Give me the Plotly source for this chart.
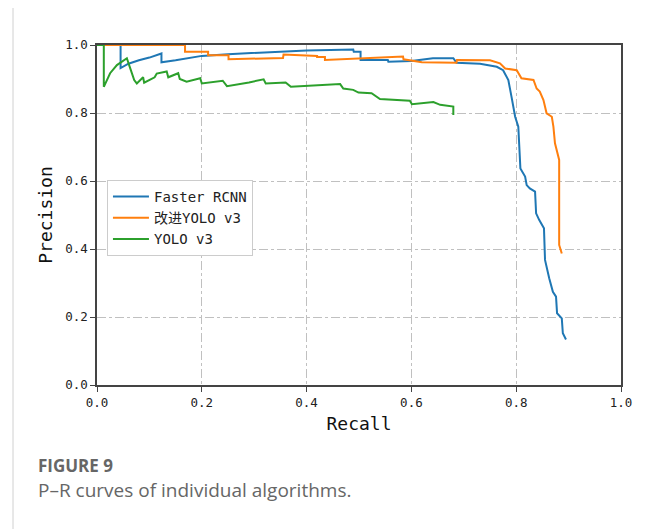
import plotly.graph_objects as go

# ---- data ----
rcnn_recall = [0.0, 0.045, 0.045, 0.06, 0.08, 0.10, 0.123, 0.123, 0.15, 0.20, 0.25, 0.30, 0.35, 0.40,
               0.489, 0.49, 0.503, 0.503, 0.555, 0.556, 0.60, 0.641, 0.68, 0.686, 0.731, 0.753, 0.763,
               0.775, 0.785, 0.791, 0.798, 0.804, 0.807, 0.808, 0.817, 0.82, 0.826, 0.836, 0.838, 0.844,
               0.853, 0.855, 0.863, 0.870, 0.876, 0.878, 0.887, 0.889, 0.895]
rcnn_precision = [1.0, 1.0, 0.932, 0.945, 0.955, 0.963, 0.975, 0.949, 0.955, 0.968, 0.973, 0.977, 0.981, 0.984,
                  0.987, 0.98, 0.98, 0.956, 0.956, 0.951, 0.953, 0.961, 0.961, 0.948, 0.945, 0.94, 0.936,
                  0.926, 0.897, 0.848, 0.789, 0.76, 0.69, 0.637, 0.613, 0.588, 0.578, 0.569, 0.505, 0.485,
                  0.461, 0.368, 0.314, 0.274, 0.26, 0.211, 0.196, 0.152, 0.134]

imp_recall = [0.0, 0.168, 0.168, 0.212, 0.212, 0.251, 0.251, 0.355, 0.356, 0.42, 0.42, 0.435, 0.435,
              0.584, 0.585, 0.62, 0.686, 0.687, 0.75, 0.769, 0.779, 0.801, 0.81, 0.833, 0.839, 0.845,
              0.852, 0.858, 0.868, 0.871, 0.874, 0.877, 0.882, 0.882, 0.887]
imp_precision = [1.0, 1.0, 0.98, 0.98, 0.97, 0.97, 0.958, 0.962, 0.972, 0.968, 0.965, 0.965, 0.956,
                 0.966, 0.958, 0.949, 0.948, 0.956, 0.955, 0.946, 0.931, 0.926, 0.902, 0.897, 0.872, 0.863,
                 0.838, 0.799, 0.789, 0.76, 0.711, 0.69, 0.662, 0.412, 0.387]

yolo_recall = [0.0, 0.013, 0.013, 0.025, 0.038, 0.057, 0.062, 0.066, 0.071, 0.076, 0.088, 0.09, 0.11,
               0.114, 0.133, 0.136, 0.155, 0.158, 0.171, 0.197, 0.2, 0.24, 0.248, 0.29, 0.318, 0.322,
               0.36, 0.37, 0.40, 0.464, 0.47, 0.489, 0.499, 0.524, 0.54, 0.597, 0.601, 0.642, 0.655,
               0.677, 0.680, 0.680]
yolo_precision = [1.0, 1.0, 0.877, 0.917, 0.941, 0.961, 0.938, 0.921, 0.897, 0.887, 0.905, 0.889, 0.905,
                  0.916, 0.922, 0.905, 0.917, 0.9, 0.892, 0.902, 0.887, 0.895, 0.879, 0.89, 0.899, 0.887,
                  0.89, 0.877, 0.88, 0.885, 0.872, 0.868, 0.86, 0.858, 0.841, 0.836, 0.826, 0.832, 0.824,
                  0.819, 0.819, 0.794]

series_names = ["Faster RCNN", "改进YOLO v3", "YOLO v3"]
tick_vals = [0.0, 0.2, 0.4, 0.6, 0.8, 1.0]
tick_text = ["0.0", "0.2", "0.4", "0.6", "0.8", "1.0"]

colors = ["#1f77b4", "#ff7f0e", "#2ca02c"]
font_mono = "DejaVu Sans Mono, Noto Sans CJK SC"

fig = go.Figure()
for name, xs, ys, c in zip(series_names,
                           [rcnn_recall, imp_recall, yolo_recall],
                           [rcnn_precision, imp_precision, yolo_precision],
                           colors):
    fig.add_trace(go.Scatter(x=xs, y=ys, mode="lines", name=name,
                             line=dict(color=c, width=2)))

axis_common = dict(
    range=[0, 1], tickvals=tick_vals, ticktext=tick_text,
    showline=True, linecolor="#444", linewidth=1.5, mirror=True,
    ticks="outside", ticklen=5, tickcolor="#444", tickwidth=1.2,
    showgrid=True, gridcolor="#c0c0c0", gridwidth=1.2, griddash="dashdot",
    zeroline=False, tickfont=dict(family=font_mono, size=12.5, color="#222"),
)

# page has an 8px body margin, so the figure is shifted by 8px
fig.update_layout(
    width=648, height=521,
    margin=dict(l=89, r=35, t=37, b=144),
    paper_bgcolor="white", plot_bgcolor="white",
    xaxis=dict(**axis_common,
               title=dict(text="Recall", font=dict(family=font_mono, size=18, color="#111"), standoff=9)),
    yaxis=dict(**axis_common,
               title=dict(text="Precision", font=dict(family=font_mono, size=18, color="#111"), standoff=8)),
    legend=dict(x=0.019, y=0.603, xanchor="left", yanchor="top",
                bgcolor="white", bordercolor="#cccccc", borderwidth=1,
                font=dict(family=font_mono, size=14, color="#222"),
                itemwidth=36, tracegroupgap=0),
    showlegend=True,
)

# card frame (left, top, right) - paper coords relative to plot area (page x 97..621, y 45..385)
fx0 = (13 - 97) / 524
fx1 = (651 - 97) / 524
fy_top = (385 - 5) / 340
fy_bot = (385 - 540) / 340
for x0, x1, y0, y1 in [(fx0, fx0, fy_bot, fy_top), (fx0, fx1, fy_top, fy_top), (fx1, fx1, fy_bot, fy_top)]:
    fig.add_shape(type="line", xref="paper", yref="paper", x0=x0, x1=x1, y0=y0, y1=y1,
                  line=dict(color="#d0d0d0", width=1))

fig.add_annotation(text="<b>FIGURE 9</b>", xref="paper", yref="paper",
                   x=(36 - 97) / 524, y=(385 - 465) / 340, xanchor="left", yanchor="middle", showarrow=False,
                   font=dict(family="Open Sans", size=17, color="#666666"))
fig.add_annotation(text="P–R curves of individual algorithms.", xref="paper", yref="paper",
                   x=(36 - 97) / 524, y=(385 - 490) / 340, xanchor="left", yanchor="middle", showarrow=False,
                   font=dict(family="Open Sans", size=19, color="#666666"))

fig.write_html("out.html")
